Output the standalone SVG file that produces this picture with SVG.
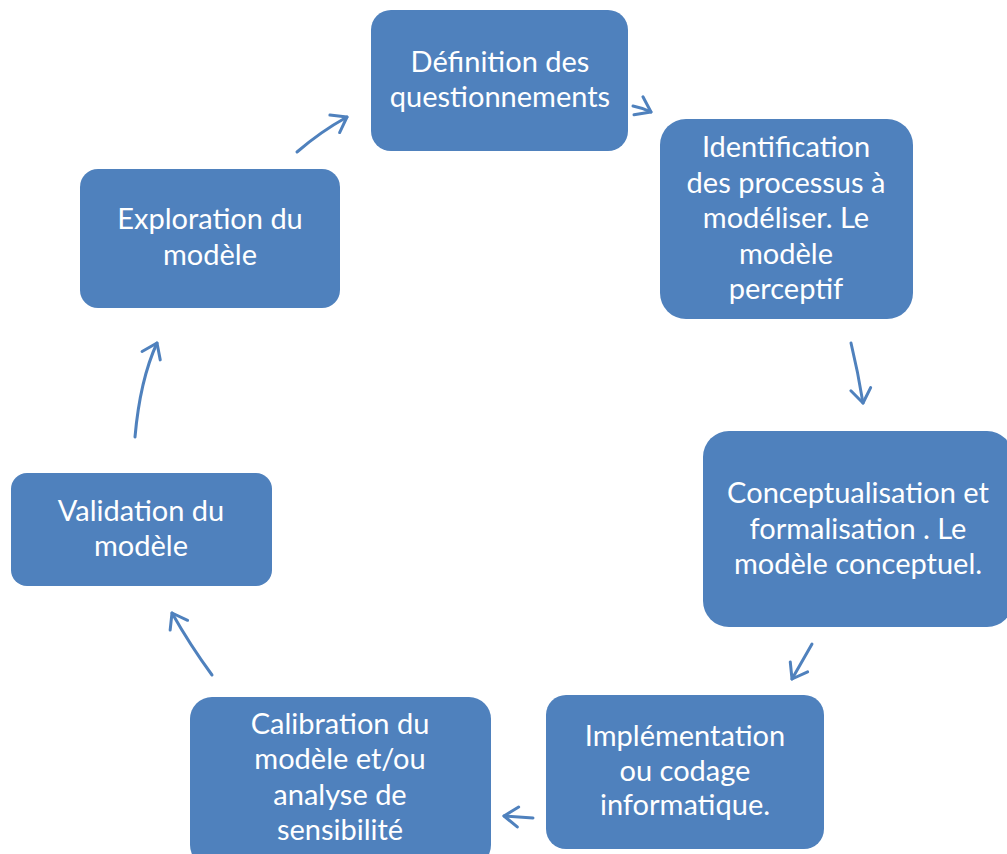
<svg xmlns="http://www.w3.org/2000/svg" width="1007" height="854" viewBox="0 0 1007 854">
<style>
.box{fill:#4F81BD;stroke:none}
.t{font-family:Lato,"Open Sans","Liberation Sans",sans-serif;font-size:29px;fill:#FFFFFF;text-anchor:middle}
.c{fill:none;stroke:#4F81BD;stroke-width:3;stroke-linecap:round}
</style>
<defs>
<marker id="ah" markerUnits="userSpaceOnUse" viewBox="-18 -13 21 26" markerWidth="21" markerHeight="26" refX="0" refY="0" orient="auto">
<path d="M-14,-10 L0,0 L-14,10" fill="none" stroke="#4F81BD" stroke-width="3" stroke-linecap="round" stroke-linejoin="round"/>
</marker>
</defs>
<rect width="1007" height="854" fill="#FFFFFF"/>
<g id="n1"><rect class="box" x="371" y="10" width="257" height="141" rx="20"/>
<text class="t" x="500" y="72">Définition des</text><text class="t" x="500" y="107">questionnements</text></g>
<g id="n2"><rect class="box" x="660" y="119" width="253" height="200" rx="26"/>
<text class="t" x="786" y="157">Identification</text><text class="t" x="786" y="192.5">des processus à</text><text class="t" x="786" y="228">modéliser. Le</text><text class="t" x="786" y="263.5">modèle</text><text class="t" x="786" y="299">perceptif</text></g>
<g id="n3"><rect class="box" x="703" y="431" width="310" height="196" rx="26"/>
<text class="t" x="858" y="503">Conceptualisation et</text><text class="t" x="858" y="538.5">formalisation . Le</text><text class="t" x="858" y="574">modèle conceptuel.</text></g>
<g id="n4"><rect class="box" x="546" y="695" width="278" height="154" rx="20"/>
<text class="t" x="685" y="746">Implémentation</text><text class="t" x="685" y="781">ou codage</text><text class="t" x="685" y="815">informatique.</text></g>
<g id="n5"><rect class="box" x="190" y="697" width="301" height="170" rx="22"/>
<text class="t" x="340" y="734">Calibration du</text><text class="t" x="340" y="769">modèle et/ou</text><text class="t" x="340" y="805">analyse de</text><text class="t" x="340" y="840">sensibilité</text></g>
<g id="n6"><rect class="box" x="11" y="473" width="261" height="113" rx="16"/>
<text class="t" x="141" y="521">Validation du</text><text class="t" x="141" y="556">modèle</text></g>
<g id="n7"><rect class="box" x="80" y="169" width="260" height="139" rx="18"/>
<text class="t" x="210" y="229">Exploration du</text><text class="t" x="210" y="265">modèle</text></g>
<g id="connectors">
<path class="c" d="M297,152 Q320,132 347,117" marker-end="url(#ah)"/>
<path class="c" d="M633,106 Q643,108 651,112" marker-end="url(#ah)"/>
<path class="c" d="M851,343 Q858,372 863,403" marker-end="url(#ah)"/>
<path class="c" d="M812,644 L792,679" marker-end="url(#ah)"/>
<path class="c" d="M533,818 L504,816" marker-end="url(#ah)"/>
<path class="c" d="M212,675 Q190,645 172,613" marker-end="url(#ah)"/>
<path class="c" d="M135,437 Q140,380 157,343" marker-end="url(#ah)"/>
</g>
</svg>
